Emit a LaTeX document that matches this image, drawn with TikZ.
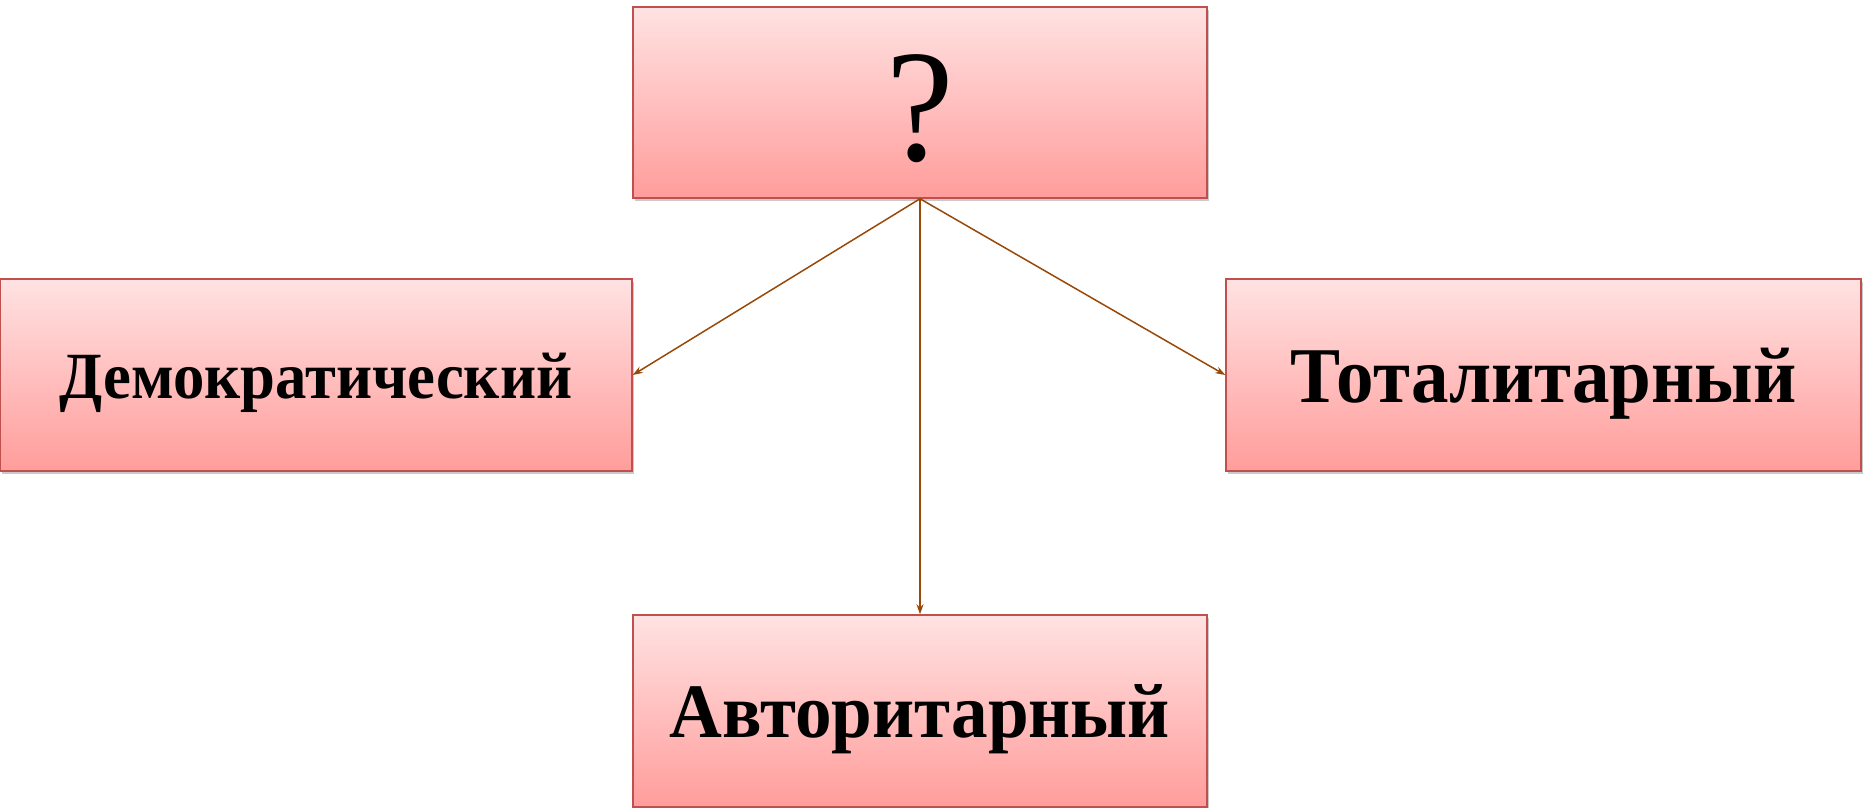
\documentclass[tikz,border=0pt]{standalone}
\usepackage{fontspec}
\setmainfont{Liberation Serif}
\newfontfamily\narrowserif[FakeStretch=0.95]{Liberation Serif}
\usetikzlibrary{shadows,arrows.meta}
\definecolor{boxborder}{HTML}{C0504D}
\definecolor{boxtop}{HTML}{FFE2E2}
\definecolor{boxbot}{HTML}{FF9D9B}
\definecolor{arrowc}{HTML}{984807}
\newcommand{\lowered}[2]{\raisebox{-#1}[0pt][0pt]{#2}}
\tikzset{
  regbox/.style={draw=boxborder, line width=1.5pt, top color=boxtop, bottom color=boxbot,
    drop shadow={shadow xshift=2pt, shadow yshift=-3pt, opacity=0.35, fill=black!60},
    minimum width=574pt, minimum height=191pt, inner sep=0pt, font=\narrowserif\bfseries},
  conn/.style={draw=arrowc, line width=1.5pt, -{Stealth[length=10pt,width=7pt]}}
}
\begin{document}
\begin{tikzpicture}[x=1pt,y=-1pt]
\useasboundingbox (0,0) rectangle (1872,808);
\node[regbox] (q) at (920,102.5) {\lowered{58pt}{\fontsize{160}{160}\selectfont\mdseries ?}};
\node[regbox, minimum width=632pt, minimum height=192pt] (d) at (316,375) {\lowered{23pt}{\fontsize{66}{66}\selectfont Демократический}};
\node[regbox, minimum width=635pt, minimum height=192pt] (t) at (1543.5,375) {\lowered{27pt}{\fontsize{79}{79}\selectfont Тоталитарный}};
\node[regbox, minimum height=192pt] (a) at (920,711) {\lowered{26pt}{\fontsize{77}{77}\selectfont Авторитарный}};
\draw[conn] (q.south) -- (d.east);
\draw[conn] (q.south) -- (t.west);
\draw[conn] (q.south) -- (a.north);
\end{tikzpicture}
\end{document}
